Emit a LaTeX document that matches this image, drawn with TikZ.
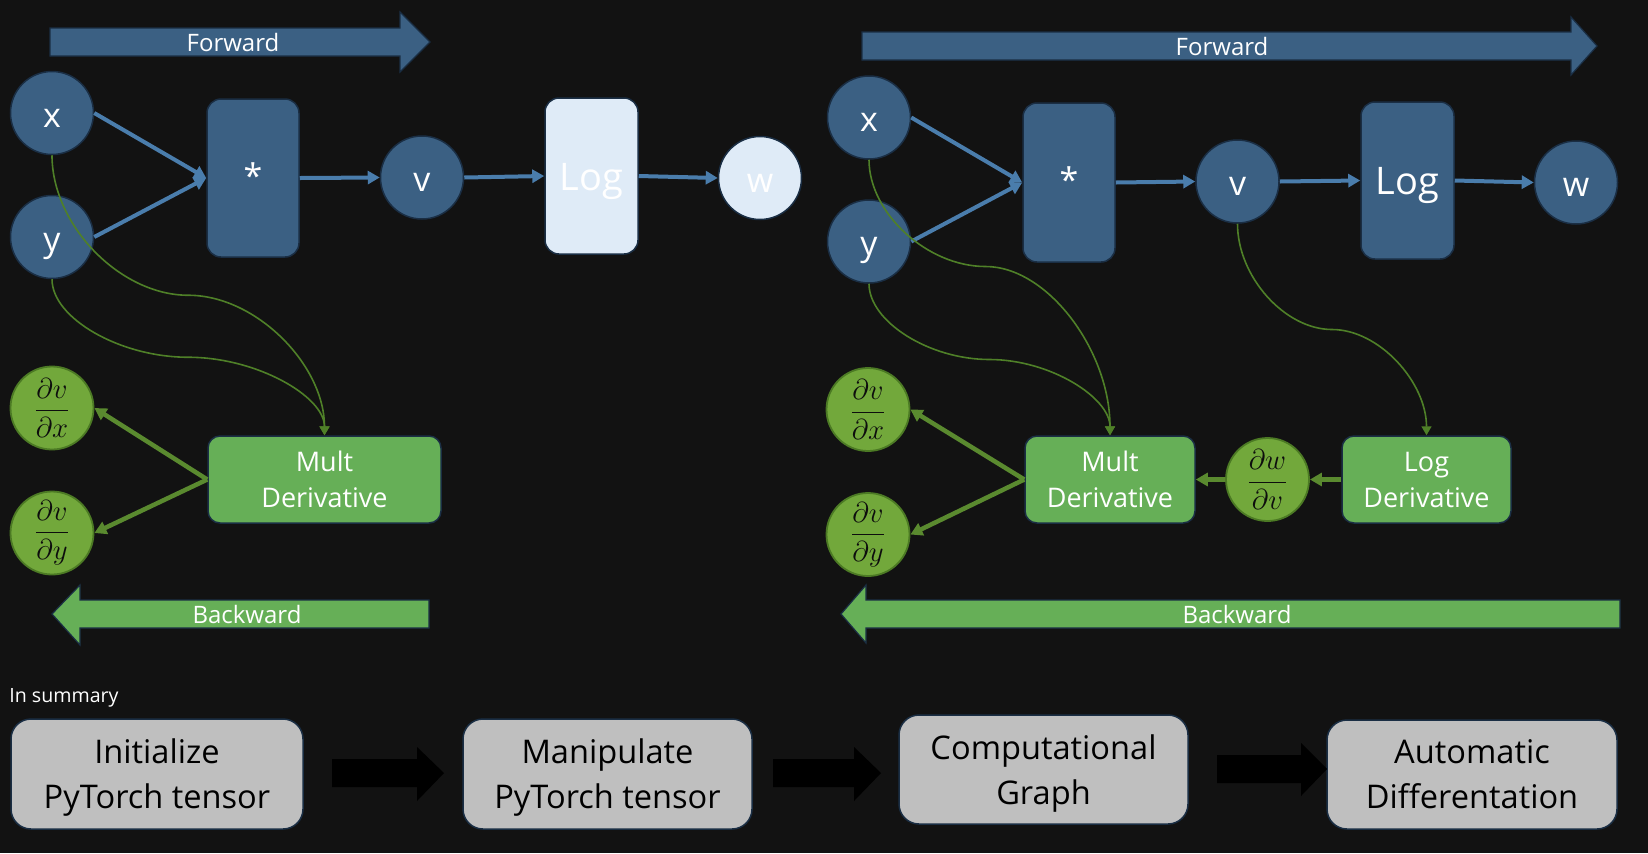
\documentclass[tikz,border=0pt]{standalone}
\usepackage{fontspec}
\setmainfont{Open Sans}
\usetikzlibrary{arrows.meta,calc}
\definecolor{bg}{HTML}{121212}
\definecolor{nodeblue}{HTML}{3B6083}
\definecolor{edgeblue}{HTML}{1A2E44}
\definecolor{arrowblue}{HTML}{4A7DAC}
\definecolor{lightblue}{HTML}{DFEBF7}
\definecolor{greenbox}{HTML}{66AF57}
\definecolor{greencirc}{HTML}{72A83B}
\definecolor{greenedge}{HTML}{4C7A24}
\definecolor{greenarrow}{HTML}{5A8A2F}
\definecolor{greencurve}{HTML}{4F8028}
\definecolor{graybox}{HTML}{BFBFBF}
\newcommand{\curvconn}[4][]{\draw[gcurve,#1] (#2) .. controls ($(#2)!0.5!(#2|-#3)$) and ($(#2|-#3)!0.5!(#3)$) .. (#3) .. controls ($(#3)!0.5!(#4|-#3)$) and ($(#4|-#3)!0.5!(#4)$) .. (#4);}
\tikzset{
  bnode/.style={circle, fill=nodeblue, draw=edgeblue, line width=0.75pt, minimum size=41.5pt, inner sep=0pt, text=white, font=\fontsize{17}{20}\selectfont, text height=17pt, text depth=3pt},
  brect/.style={rectangle, rounded corners=7pt, fill=nodeblue, draw=edgeblue, line width=0.75pt, inner sep=0pt, text=white},
  startext/.style={font=\fontsize{17}{20}\selectfont, text height=13pt, text depth=3pt},
  logtext/.style={font=\fontsize{19}{22}\selectfont, text height=18pt, text depth=4pt},
  gbox/.style={rectangle, rounded corners=6pt, fill=greenbox, draw=edgeblue, line width=0.75pt, inner sep=0pt, text=white, align=center, font=\fontsize{13.5}{18}\selectfont},
  gcirc/.style={circle, fill=greencirc, draw=greenedge, line width=0.9pt, minimum size=41.5pt, inner sep=0pt, text=black!95, font=\fontsize{13.5}{16}\selectfont},
  sumbox/.style={rectangle, rounded corners=10pt, fill=graybox, draw=edgeblue, line width=0.75pt, inner sep=0pt, text=black, align=center, font=\fontsize{16.3}{22.5}\selectfont, text depth=0pt},
  bigtxt/.style={text=white, font=\fontsize{12}{14}\selectfont, inner sep=0pt},
  barrow/.style={draw=arrowblue, line width=2pt, -{Triangle[length=6pt,width=6.5pt]}},
  garrow/.style={draw=greenarrow, line width=2.25pt, -{Triangle[length=6pt,width=6.5pt]}},
  gcurve/.style={draw=greencurve, line width=0.8pt, -{Triangle[length=4.5pt,width=5pt]}},
  blockarrow/.style={line width=0.6pt}
}
\begin{document}
\begin{tikzpicture}[x=0.5pt,y=-0.5pt]
\path[use as bounding box, fill=bg] (0,0) rectangle (1648,853);

% ---------- big block arrows ----------
\filldraw[blockarrow, fill=nodeblue, draw=edgeblue] (50,28) -- (400,28) -- (400,12) -- (430,42) -- (400,72) -- (400,56) -- (50,56) -- cycle;
\node[bigtxt] (fwdL) at (233,42) {Forward};
\filldraw[blockarrow, fill=nodeblue, draw=edgeblue] (862,32) -- (1571,32) -- (1571,17) -- (1597,46) -- (1571,75) -- (1571,60) -- (862,60) -- cycle;
\node[bigtxt] (fwdR) at (1222,46) {Forward};
\filldraw[blockarrow, fill=greenbox, draw=edgeblue] (429,600) -- (80,600) -- (80,585) -- (52,614) -- (80,645) -- (80,628) -- (429,628) -- cycle;
\node[bigtxt] (bwdL) at (247,614) {Backward};
\filldraw[blockarrow, fill=greenbox, draw=edgeblue] (1620,600) -- (866,600) -- (866,585) -- (841,614) -- (866,643) -- (866,628) -- (1620,628) -- cycle;
\node[bigtxt] (bwdR) at (1237,614) {Backward};

% ---------- left panel ----------
\node[bnode] (xL) at (52,113) {x};
\node[bnode] (yL) at (52,237) {y};
\node[brect, startext, minimum width=46pt, minimum height=79pt] (mulL) at (253,178) {*};
\node[bnode] (vL) at (422,177.5) {v};
\node[brect, logtext, fill=lightblue, minimum width=46.5pt, minimum height=78pt] (logL) at (591.5,176) {Log};
\node[bnode, fill=lightblue] (wL) at (760,178) {w};
\node[gbox, minimum width=116.5pt, minimum height=43.5pt] (mdL) at (324.5,479.5) {Mult\\Derivative};
\node[gcirc] (dxL) at (52,408) {$\displaystyle\frac{\partial v}{\partial x}$};
\node[gcirc] (dyL) at (52,533) {$\displaystyle\frac{\partial v}{\partial y}$};

\draw[barrow] (xL.east) -- (mulL.west);
\draw[barrow] (yL.east) -- (mulL.west);
\draw[barrow] (mulL.east) -- (vL.west);
\draw[barrow] (vL.east) -- (logL.west);
\draw[barrow] (logL.east) -- (wL.west);
\draw[garrow] (mdL.west) -- (dxL.east);
\draw[garrow] (mdL.west) -- (dyL.east);

\coordinate (mxL) at ($(xL.south)!0.5!(mdL.north)$);
\coordinate (myL) at ($(yL.south)!0.5!(mdL.north)$);
\curvconn{xL.south}{mxL}{mdL.north}
\curvconn{yL.south}{myL}{mdL.north}

% ---------- right panel ----------
\node[bnode] (xR) at (869,117.5) {x};
\node[bnode] (yR) at (869,241.5) {y};
\node[brect, startext, minimum width=46pt, minimum height=79.5pt] (mulR) at (1069,182.5) {*};
\node[bnode] (vR) at (1237.5,181.5) {v};
\node[brect, logtext, minimum width=46.5pt, minimum height=78.5pt] (logR) at (1407.5,180.5) {Log};
\node[bnode] (wR) at (1576,182.5) {w};
\node[gbox, minimum width=85pt, minimum height=43.5pt] (mdR) at (1110,479.5) {Mult\\Derivative};
\node[gcirc] (dwR) at (1267.5,479.5) {$\displaystyle\frac{\partial w}{\partial v}$};
\node[gbox, minimum width=84.5pt, minimum height=43.5pt] (ldR) at (1426.5,479.5) {Log\\Derivative};
\node[gcirc] (dxR) at (868,409.5) {$\displaystyle\frac{\partial v}{\partial x}$};
\node[gcirc] (dyR) at (868,534.5) {$\displaystyle\frac{\partial v}{\partial y}$};

\draw[barrow] (xR.east) -- (mulR.west);
\draw[barrow] (yR.east) -- (mulR.west);
\draw[barrow] (mulR.east) -- (vR.west);
\draw[barrow] (vR.east) -- (logR.west);
\draw[barrow] (logR.east) -- (wR.west);
\draw[garrow] (ldR.west) -- (dwR.east);
\draw[garrow] (dwR.west) -- (mdR.east);
\draw[garrow] (mdR.west) -- (dxR.east);
\draw[garrow] (mdR.west) -- (dyR.east);

\coordinate (mxR) at ($(xR.south)!0.5!(mdR.north)+(-4,-31)$);
\coordinate (myR) at ($(yR.south)!0.5!(mdR.north)$);
\coordinate (mvR) at ($(vR.south)!0.5!(ldR.north)$);
\curvconn{xR.south}{mxR}{mdR.north}
\curvconn{yR.south}{myR}{mdR.north}
\curvconn{vR.south}{mvR}{ldR.north}

% ---------- summary ----------
\node[anchor=base west, text=white, font=\fontsize{9.8}{12}\selectfont, inner sep=0pt] (sum) at (9,702) {In summary};
\node[sumbox, minimum width=146pt, minimum height=55pt] (s1) at (157,774) {Initialize\\PyTorch tensor};
\node[sumbox, minimum width=144.5pt, minimum height=55pt] (s2) at (607.5,774) {Manipulate\\PyTorch tensor};
\node[sumbox, minimum width=144.5pt, minimum height=54.5pt] (s3) at (1043.5,769.5) {Computational\\Graph};
\node[sumbox, minimum width=145pt, minimum height=54.5pt] (s4) at (1472,774.5) {Automatic\\Differentation};
\fill[black] (332,759) -- (417,759) -- (417,747) -- (444,773) -- (417,801) -- (417,787) -- (332,787) -- cycle;
\fill[black] (773,759) -- (854,759) -- (854,747) -- (881,773) -- (854,801) -- (854,787) -- (773,787) -- cycle;
\fill[black] (1217,755) -- (1301,755) -- (1301,743) -- (1327,769) -- (1301,796) -- (1301,783) -- (1217,783) -- cycle;
\end{tikzpicture}
\end{document}
